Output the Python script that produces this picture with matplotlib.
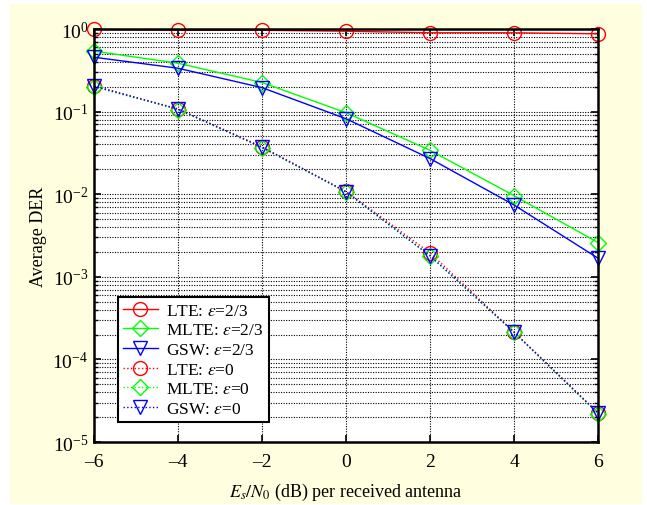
import matplotlib
matplotlib.use("Agg")
import matplotlib.pyplot as plt
from matplotlib.patches import Rectangle
from matplotlib.ticker import LogLocator, NullFormatter, FixedLocator
import numpy as np

plt.rcParams['font.family'] = 'Liberation Serif'
plt.rcParams['mathtext.fontset'] = 'stix'
plt.rcParams['axes.unicode_minus'] = False

snr = [-6, -4, -2, 0, 2, 4, 6]
xtick_labels = ['\u20136', '\u20134', '\u20132', '0', '2', '4', '6']

# epsilon = 2/3
lte_23 = [0.99, 0.965, 0.965, 0.94, 0.90, 0.90, 0.875]
mlte_23 = [0.54, 0.385, 0.225, 0.097, 0.034, 0.0096, 0.0026]
gsw_23 = [0.455, 0.335, 0.195, 0.082, 0.027, 0.0074, 0.00168]

# epsilon = 0
lte_0 = [0.205, 0.108, 0.0375, 0.0108, 0.00195, 0.000215, 2.25e-5]
mlte_0 = [0.200, 0.106, 0.0365, 0.0106, 0.00178, 0.000212, 2.2e-5]
gsw_0 = [0.203, 0.107, 0.037, 0.0107, 0.00180, 0.000214, 2.25e-5]

fig = plt.figure(figsize=(6.47, 5.06), dpi=100)
fig.patch.set_facecolor('white')
fig.patches.append(Rectangle((10 / 647, 1 / 506), 632 / 647, 500 / 506,
                             transform=fig.transFigure, facecolor='#ffffe0',
                             edgecolor='none', zorder=-10))

ax = fig.add_axes([94 / 647, 1 - 443 / 506, 504 / 647, 413 / 506])
ax.set_facecolor('white')

style = dict(markersize=10, markerfacecolor='none', linewidth=1.0,
             markeredgewidth=1.0, clip_on=False)
dstyle = dict(style, markersize=8.5)
ax.semilogy(snr, lte_23, '-', color='red', marker='o', label=r'LTE: $\varepsilon$=2/3', **style)
ax.semilogy(snr, mlte_23, '-', color='#00ff00', marker='D', label=r'MLTE: $\varepsilon$=2/3', **dstyle)
ax.semilogy(snr, gsw_23, '-', color='blue', marker='v', label=r'GSW: $\varepsilon$=2/3', **style)
ax.semilogy(snr, lte_0, ':', color='red', marker='o', label=r'LTE: $\varepsilon$=0', **style)
ax.semilogy(snr, mlte_0, ':', color='#00ff00', marker='D', label=r'MLTE: $\varepsilon$=0', **dstyle)
ax.semilogy(snr, gsw_0, ':', color='blue', marker='v', label=r'GSW: $\varepsilon$=0', **style)

ax.set_xlim(-6, 6)
ax.set_ylim(1e-5, 1)
ax.xaxis.set_major_locator(FixedLocator(snr))
ax.set_xticklabels(xtick_labels)
ax.yaxis.set_major_locator(LogLocator(base=10, numticks=10))
ax.yaxis.set_minor_locator(LogLocator(base=10, subs=np.arange(2, 10), numticks=20))
ax.yaxis.set_minor_formatter(NullFormatter())

ax.grid(True, which='major', color='black', linestyle=(0, (1, 1.3)), linewidth=0.8)
ax.grid(True, which='minor', axis='y', color='black', linestyle=(0, (1, 1.3)), linewidth=0.8)
ax.tick_params(which='both', direction='in', top=True, right=True, labelsize=14)
ax.tick_params(which='major', length=5, width=1.2)
ax.tick_params(axis='x', pad=8)
ax.tick_params(axis='y', pad=4)
ax.tick_params(which='minor', length=3, width=1.0)
for s in ax.spines.values():
    s.set_linewidth(1.8)

ax.set_ylabel('Average DER', fontsize=13)
ax.yaxis.set_label_coords(-0.093, 0.5)
ax.set_xlabel(r'$E_s/N_0$ (dB) per received antenna', fontsize=13, labelpad=8)

leg = ax.legend(loc='lower left', bbox_to_anchor=(0.047, 0.048), fontsize=12.5,
                fancybox=False, framealpha=1, edgecolor='black',
                handlelength=2.0, borderpad=0.3, labelspacing=0.2,
                handletextpad=0.5, borderaxespad=0)
leg.get_frame().set_linewidth(1.5)

fig.savefig('out.png', dpi=100, facecolor=fig.get_facecolor())
